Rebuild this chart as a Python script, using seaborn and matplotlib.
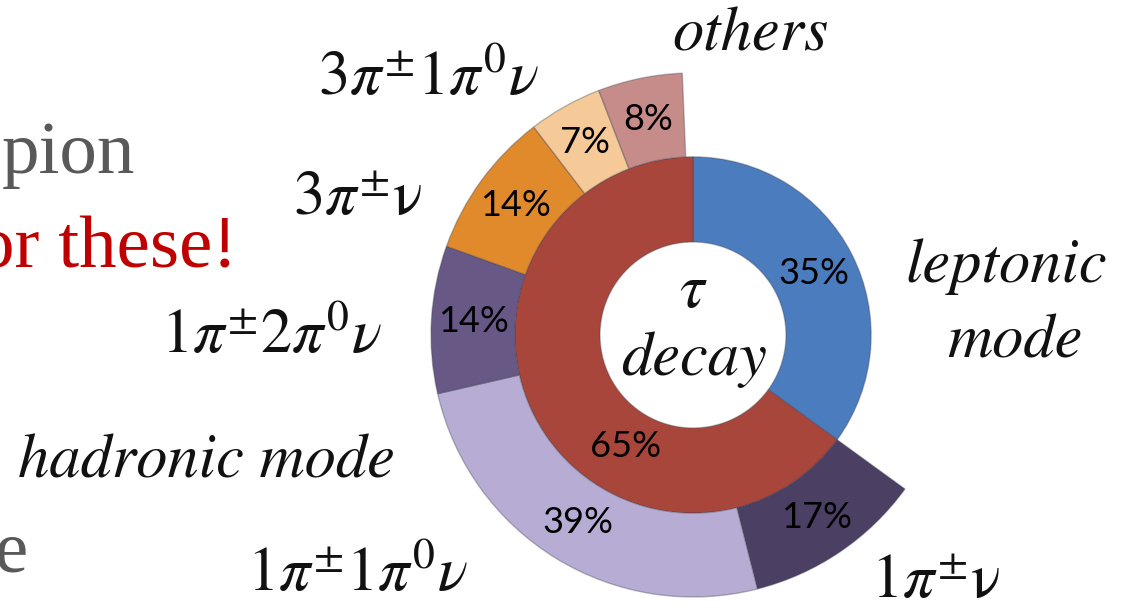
import numpy as np
import matplotlib
matplotlib.use("Agg")
import matplotlib.pyplot as plt
import seaborn as sns

# Inner ring: tau decay split into leptonic / hadronic modes (percent of all decays)
inner_names = ["leptonic mode", "hadronic mode"]
inner_pct = [35, 65]

# Outer ring: hadronic channels (percent of the hadronic mode)
outer_names = [r"$1\pi^{\pm}\mathrm{\nu}$", r"$1\pi^{\pm}1\pi^{0}\nu$", r"$1\pi^{\pm}2\pi^{0}\nu$",
               r"$3\pi^{\pm}\mathrm{\nu}$", r"$3\pi^{\pm}1\pi^{0}\nu$", "others"]
outer_pct = [17, 39, 14, 14, 7, 8]

inner_colors = ["#4a7cbe", "#a9463c"]
outer_colors = ["#4b3f63", "#b7acd3", "#675886", "#e08a2c", "#f6c998", "#c58c8a"]

sns.set_theme(style="white")
plt.rcParams["mathtext.fontset"] = "stix"
plt.rcParams["font.family"] = ["STIXGeneral", "DejaVu Sans"]

W, H = 1122, 615
CX, CY, SCALE = 693, 335, 262  # ring centre (px) and outer radius (px)

fig = plt.figure(figsize=(W / 100, H / 100), dpi=100)
ax = fig.add_axes([0, 0, 1, 1])

R_OUT, R_MID, R_HOLE = 1.0, 0.68, 0.355
edge = dict(edgecolor=(0.25, 0.25, 0.3, 0.35), linewidth=1.0)

inner_wedges, _ = ax.pie(np.array(inner_pct) / 100, radius=R_MID, startangle=90,
                         counterclock=False, normalize=False, colors=inner_colors,
                         wedgeprops=dict(width=R_MID - R_HOLE, **edge))

# Outer ring only spans the hadronic share; a hidden wedge fills the leptonic gap
outer_vals = [inner_pct[0] / 100] + [inner_pct[1] / 100 * p / 100 for p in outer_pct]
outer_wedges, _ = ax.pie(outer_vals, radius=R_OUT, startangle=90, counterclock=False,
                         normalize=False, colors=["white"] + outer_colors,
                         wedgeprops=dict(width=R_OUT - R_MID, **edge))
outer_wedges[0].set_visible(False)

pct_font = dict(family="Lato", fontsize=26, color="#000000", ha="center", va="center")


def mid_point(w, r, angle=None):
    a = np.deg2rad((w.theta1 + w.theta2) / 2 if angle is None else angle)
    return r * np.cos(a), r * np.sin(a)


r_in_lab = (R_MID + R_HOLE) / 2
r_out_lab = (R_OUT + R_MID) / 2
x, y = mid_point(inner_wedges[0], r_in_lab)
ax.text(x, y, f"{inner_pct[0]}%", **pct_font)
x, y = mid_point(inner_wedges[1], r_in_lab - 0.02, angle=-121)
ax.text(x, y, f"{inner_pct[1]}%", **pct_font)
for w, p in zip(outer_wedges[1:], outer_pct):
    x, y = mid_point(w, r_out_lab)
    ax.text(x, y, f"{p}%", **pct_font)

ax.set_xlim(-CX / SCALE, (W - CX) / SCALE)
ax.set_ylim((CY - H) / SCALE, CY / SCALE)
ax.set_aspect("auto")
ax.axis("off")


def px(xp, yp):
    return (xp - CX) / SCALE, (CY - yp) / SCALE


lab = dict(fontsize=45, color="#111111", ha="center", va="center")
ital = dict(lab, style="italic")

ax.text(*px(750, 35), outer_names[5], **ital)
ax.text(*px(429, 80), outer_names[4], **lab)
ax.text(*px(357, 200), outer_names[3], **lab)
ax.text(*px(272, 338), outer_names[2], **lab)
ax.text(*px(358, 576), outer_names[1], **lab)
ax.text(*px(935, 583), outer_names[0], **lab)
ax.text(*px(1006, 267), "leptonic", **ital)
ax.text(*px(1015, 342), "mode", **ital)
ax.text(*px(206, 462), inner_names[1], **ital)
ax.text(*px(693, 292), r"$\tau$", **lab)
ax.text(*px(694, 360), "decay", **ital)

# Slide body text running in from the left edge
serif = dict(family="Liberation Serif", fontsize=54, ha="right", va="baseline")
fig.text(135 / W, 1 - 173 / H, "pion", color="#595959", **serif)
fig.text(237 / W, 1 - 268 / H, "or these!", color="#c00000", **serif)
fig.text(27 / W, 1 - 572 / H, "e", color="#595959", **serif)

fig.savefig("out.png", dpi=100, facecolor="white")
